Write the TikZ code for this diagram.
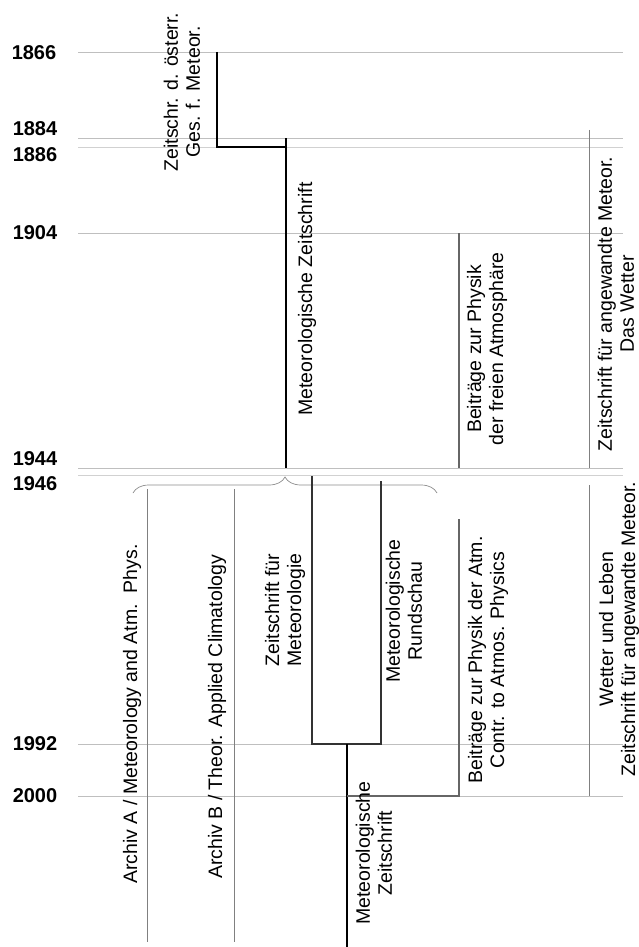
\documentclass[tikz,border=0pt]{standalone}
\usepackage{fontspec}
\setmainfont{Liberation Sans}
\usetikzlibrary{decorations.pathreplacing}

\begin{document}
\begin{tikzpicture}[x=1pt,y=-1pt,
    grid/.style={color=black!25,line width=0.9pt},
    year/.style={font=\fontsize{20}{22}\selectfont\bfseries},
    title/.style={rotate=90,align=center,inner sep=0pt,font=\fontsize{19.5}{22}\selectfont},
    mainline/.style={color=black,line width=1.6pt},
    darkline/.style={color=black!80,line width=1.3pt},
    thinline/.style={color=black!50,line width=0.9pt}]
                        \useasboundingbox (0,0) rectangle (638,947);
                        % year lines
                        \draw[grid] (78,52) -- (623,52);
                        \draw[grid] (78,138) -- (623,138);
                        \draw[grid,color=black!18] (78,147) -- (623,147);
                        \draw[grid] (78,233) -- (623,233);
                        \draw[grid] (78,468) -- (623,468);
                        \draw[grid,color=black!18] (78,475) -- (623,475);
                        \draw[grid] (78,744) -- (623,744);
                        \draw[grid] (78,796) -- (623,796);
                        \node[year] (y1866) at (34,53) {1866};
                        \node[year] (y1884) at (35,129) {1884};
                        \node[year] (y1886) at (35,155) {1886};
                        \node[year] (y1904) at (35,233) {1904};
                        \node[year] (y1944) at (35,459) {1944};
                        \node[year] (y1946) at (35,484) {1946};
                        \node[year] (y1992) at (35,744) {1992};
                        \node[year] (y2000) at (35,796) {2000};

                        % before 1946
                        \draw[mainline] (217,52) -- (217,147) -- (286,147);
                        \draw[mainline] (286,138) -- (286,468);
                        \draw[thinline,color=black!60,line width=1.2pt] (459,233) -- (459,468);
                        \draw[thinline] (589,130) -- (589,468);
                        \node[title] (zoegm) at (182,92) {Zeitschr. d. österr.\\Ges. f. Meteor.};
                        \node[title] (metz) at (307,299) {Meteorologische Zeitschrift};
                        \node[title] (bpfa) at (487,349) {Beiträge zur Physik\\der freien Atmosphäre};
                        \node[title] (zam) at (616,304) {Zeitschrift für angewandte Meteor.\\Das Wetter};

                        % after 1946
                        \draw[thinline,color=black!45,line width=0.7pt,decorate,decoration={brace,amplitude=16pt}] (133,493) -- (437,493);
                        \draw[thinline] (147,489) -- (147,942);
                        \draw[thinline] (234,489) -- (234,942);
                        \draw[darkline] (312,476) -- (312,744) -- (381,744) -- (381,481);
                        \draw[mainline] (347,744) -- (347,947);
                        \draw[thinline,color=black!60,line width=1.2pt] (347,796) -- (459,796) -- (459,519);
                        \draw[thinline] (589,485) -- (589,796);
                        \node[title] (archa) at (132,714) {Archiv A / Meteorology and Atm.\ \ Phys.};
                        \node[title] (archb) at (217,717) {Archiv B / Theor. Applied Climatology};
                        \node[title] (zfm) at (285,610) {Zeitschrift für\\Meteorologie};
                        \node[title] (mr) at (404,611) {Meteorologische\\Rundschau};
                        \node[title] (metz2) at (374,853) {Meteorologische\\Zeitschrift};
                        \node[title] (bpa) at (488,660) {Beiträge zur Physik der Atm.\\Contr. to Atmos. Physics};
                        \node[title] (wl) at (619,629) {Wetter und Leben\\Zeitschrift für angewandte Meteor.};
                    \end{tikzpicture}
\end{document}
